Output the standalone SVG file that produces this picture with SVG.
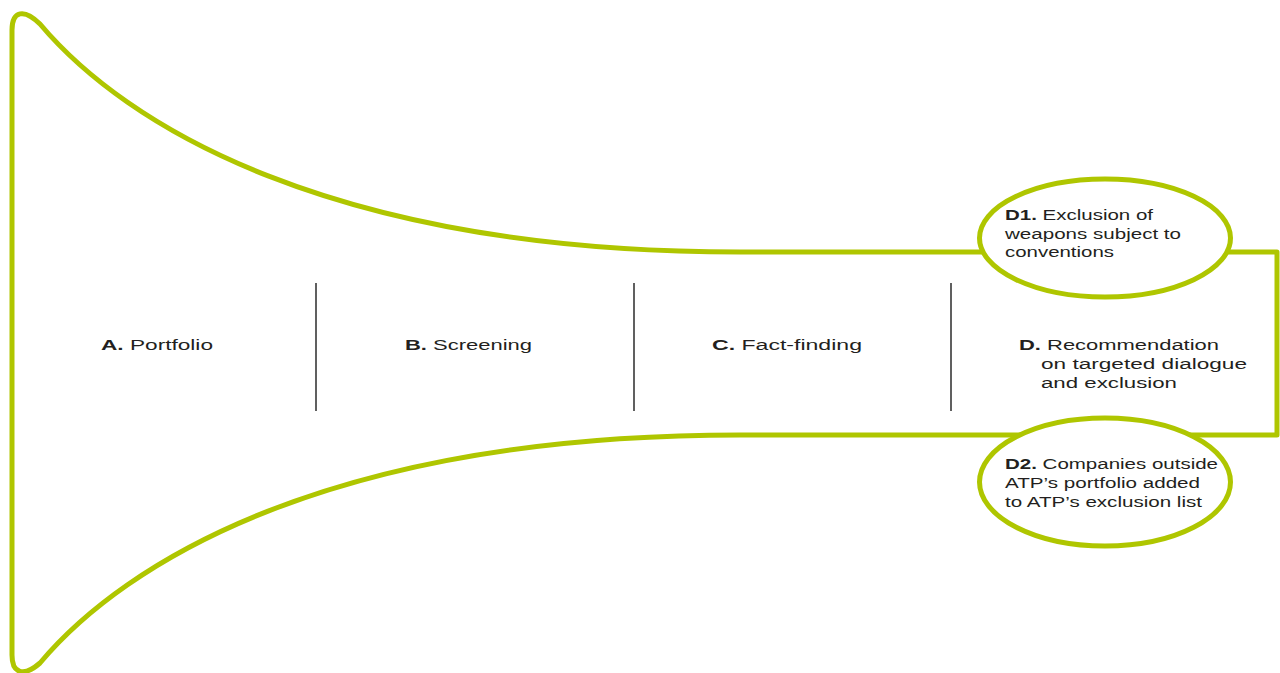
<svg xmlns="http://www.w3.org/2000/svg" width="1280" height="673" viewBox="0 0 1280 673">
<style>
.funnel{fill:none;stroke:#afc600;stroke-width:5;stroke-linejoin:round;stroke-linecap:round}
.oval{fill:#fff;stroke:#afc600;stroke-width:5}
.div{stroke:#2b2b2b;stroke-width:1.5}
text{font-family:"Liberation Sans",Arial,sans-serif;font-size:15.5px;fill:#231f20}
.b{font-weight:bold}
</style>
<rect width="1280" height="673" fill="#fff"/>
<g id="connectors">
<path class="funnel" d="M12,655 L12,30 C12,11 24,8 40,24 C125,125 330,252 740,252 L1277,252 L1277,435 L740,435 C330,435 125,562 40,663 C24,677 12,674 12,655 Z"/>
<line class="div" x1="316" y1="283" x2="316" y2="411"/>
<line class="div" x1="634" y1="283" x2="634" y2="411"/>
<line class="div" x1="951" y1="283" x2="951" y2="411"/>
</g>
<g id="nodeA"><text x="101" y="350" textLength="112" lengthAdjust="spacingAndGlyphs"><tspan class="b">A.</tspan> Portfolio</text></g>
<g id="nodeB"><text x="405" y="350" textLength="127" lengthAdjust="spacingAndGlyphs"><tspan class="b">B.</tspan> Screening</text></g>
<g id="nodeC"><text x="712" y="350" textLength="150" lengthAdjust="spacingAndGlyphs"><tspan class="b">C.</tspan> Fact-finding</text></g>
<g id="nodeD">
<text x="1019" y="350" textLength="200" lengthAdjust="spacingAndGlyphs"><tspan class="b">D.</tspan> Recommendation</text>
<text x="1041" y="369" textLength="206" lengthAdjust="spacingAndGlyphs">on targeted dialogue</text>
<text x="1041" y="388" textLength="136" lengthAdjust="spacingAndGlyphs">and exclusion</text>
</g>
<g id="nodeD1">
<ellipse class="oval" cx="1105" cy="238" rx="125.5" ry="59"/>
<text x="1005" y="220" textLength="148" lengthAdjust="spacingAndGlyphs"><tspan class="b">D1.</tspan> Exclusion of</text>
<text x="1005" y="239" textLength="176" lengthAdjust="spacingAndGlyphs">weapons subject to</text>
<text x="1005" y="257" textLength="109" lengthAdjust="spacingAndGlyphs">conventions</text>
</g>
<g id="nodeD2">
<ellipse class="oval" cx="1105" cy="482" rx="125.5" ry="64"/>
<text x="1005" y="469" textLength="213" lengthAdjust="spacingAndGlyphs"><tspan class="b">D2.</tspan> Companies outside</text>
<text x="1005" y="488" textLength="195" lengthAdjust="spacingAndGlyphs">ATP’s portfolio added</text>
<text x="1005" y="507" textLength="197" lengthAdjust="spacingAndGlyphs">to ATP’s exclusion list</text>
</g>
</svg>
